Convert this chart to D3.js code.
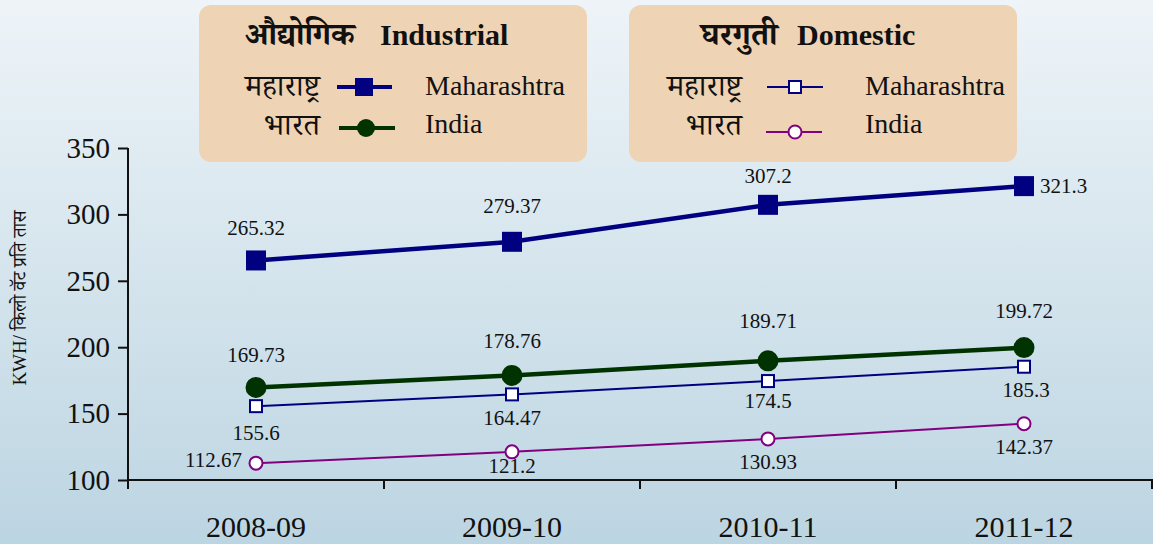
<!DOCTYPE html>
<html lang="en">
<head>
<meta charset="UTF-8">
<title>KWH per hour - Maharashtra and India</title>
<style>
    body { margin: 0; padding: 0; overflow: hidden; }
    svg { display: block; }
    text { font-family: 'Liberation Serif', 'Times New Roman', 'Noto Serif Devanagari', 'Lohit Devanagari', serif; fill: #111; }
</style>
<script src="https://d3js.org/d3.v7.min.js"></script>
</head>
<body>
<div id="chart"></div>
<script>
    // data
    const years = ["2008-09", "2009-10", "2010-11", "2011-12"];
    const indMaharashtra = [265.32, 279.37, 307.2, 321.3];
    const indIndia = [169.73, 178.76, 189.71, 199.72];
    const domMaharashtra = [155.6, 164.47, 174.5, 185.3];
    const domIndia = [112.67, 121.2, 130.93, 142.37];
    const yTicks = [100, 150, 200, 250, 300, 350];

    const width = 1153, height = 544;
    const svg = d3.select("#chart").append("svg")
        .attr("width", width)
        .attr("height", height);

    // background gradient
    const grad = svg.append("defs").append("linearGradient")
        .attr("id", "bg").attr("x1", 0).attr("y1", 0).attr("x2", 0).attr("y2", 1);
    grad.append("stop").attr("offset", "0%").attr("stop-color", "#eef4f8");
    grad.append("stop").attr("offset", "100%").attr("stop-color", "#bcd5e2");
    svg.append("rect").attr("width", width).attr("height", height).attr("fill", "url(#bg)");

    const x = d3.scaleBand().domain(years).range([128, 1152]);
    const y = d3.scaleLinear().domain([100, 350]).range([480, 148]);
    const cx = d => x(d) + x.bandwidth() / 2;

    // y axis
    const yAxis = svg.append("g")
        .attr("transform", "translate(128,0)")
        .call(d3.axisLeft(y).tickValues(yTicks).tickSize(10).tickPadding(8));
    yAxis.select(".domain").attr("stroke", "#111").attr("stroke-width", 2).attr("d", "M0,148V480");
    yAxis.selectAll(".tick line").attr("stroke", "#111").attr("stroke-width", 2);
    yAxis.selectAll(".tick text").attr("font-size", 29).attr("font-family", "Liberation Serif").attr("fill", "#111");

    // x axis (ticks between categories)
    svg.append("line").attr("x1", 128).attr("x2", width).attr("y1", 480).attr("y2", 480)
        .attr("stroke", "#111").attr("stroke-width", 2);
    const edges = years.map(d => x(d)).concat([x(years[years.length - 1]) + x.bandwidth()]);
    svg.selectAll(".xtick").data(edges).join("line")
        .attr("x1", d => d).attr("x2", d => d).attr("y1", 480).attr("y2", 489)
        .attr("stroke", "#111").attr("stroke-width", 2);
    svg.selectAll(".xlab").data(years).join("text")
        .attr("x", d => cx(d)).attr("y", 537)
        .attr("text-anchor", "middle").attr("font-size", 30)
        .text(d => d);

    // y axis title
    svg.append("text")
        .attr("transform", "translate(26,298) rotate(-90)")
        .attr("text-anchor", "middle").attr("font-size", 19)
        .text("KWH/ किलो वॅट प्रति तास");

    const line = d3.line().x((d, i) => cx(years[i])).y(d => y(d));

    // label offsets [dx, dy, anchor]
    const offIndM = [[0, -25, "middle"], [0, -29, "middle"], [0, -22, "middle"], [16, 7, "start"]];
    const offIndI = [[0, -25, "middle"], [0, -27, "middle"], [0, -33, "middle"], [0, -30, "middle"]];
    const offDomM = [[0, 34, "middle"], [0, 31, "middle"], [0, 27, "middle"], [2, 30, "middle"]];
    const offDomI = [[-14, 4, "end"], [0, 21, "middle"], [0, 30, "middle"], [0, 30, "middle"]];

    const series = [
        { values: domIndia, color: "#800080", width: 2, marker: "circle", size: 6.5, fill: "#fff", off: offDomI },
        { values: domMaharashtra, color: "#000080", width: 2, marker: "square", size: 12, fill: "#fff", off: offDomM },
        { values: indIndia, color: "#003300", width: 4.5, marker: "circle", size: 9.5, fill: "#003300", off: offIndI },
        { values: indMaharashtra, color: "#000080", width: 4.5, marker: "square", size: 18, fill: "#000080", off: offIndM }
    ];

    series.forEach(s => {
        svg.append("path").datum(s.values)
            .attr("d", line).attr("fill", "none")
            .attr("stroke", s.color).attr("stroke-width", s.width);
        const g = svg.append("g");
        s.values.forEach((v, i) => {
            const px = cx(years[i]), py = y(v);
            if (s.marker === "circle") {
                g.append("circle").attr("cx", px).attr("cy", py).attr("r", s.size)
                    .attr("fill", s.fill).attr("stroke", s.color).attr("stroke-width", 2);
            } else {
                g.append("rect").attr("x", px - s.size / 2).attr("y", py - s.size / 2)
                    .attr("width", s.size).attr("height", s.size)
                    .attr("fill", s.fill).attr("stroke", s.color).attr("stroke-width", 2);
            }
            const o = s.off[i];
            g.append("text").attr("x", px + o[0]).attr("y", py + o[1])
                .attr("text-anchor", o[2]).attr("font-size", 21)
                .text(v);
        });
    });

    // legend boxes
    function legend(x0) {
        const g = svg.append("g").attr("transform", `translate(${x0},0)`);
        g.append("rect").attr("x", 0).attr("y", 5).attr("width", 388).attr("height", 157)
            .attr("rx", 12).attr("fill", "#efd3b5");
        return g;
    }

    const lg1 = legend(199);
    lg1.append("text").attr("x", 46).attr("y", 45).attr("font-size", 32).attr("font-weight", "bold").text("औद्योगिक");
    lg1.append("text").attr("x", 181).attr("y", 45).attr("font-size", 30).attr("font-weight", "bold").text("Industrial");
    lg1.append("text").attr("x", 121).attr("y", 96).attr("text-anchor", "end").attr("font-size", 31).text("महाराष्ट्र");
    lg1.append("text").attr("x", 121).attr("y", 135).attr("text-anchor", "end").attr("font-size", 31).text("भारत");
    lg1.append("line").attr("x1", 138).attr("x2", 193).attr("y1", 87).attr("y2", 87).attr("stroke", "#000080").attr("stroke-width", 4);
    lg1.append("rect").attr("x", 156).attr("y", 78).attr("width", 18).attr("height", 18).attr("fill", "#000080");
    lg1.append("line").attr("x1", 140).attr("x2", 196).attr("y1", 128).attr("y2", 128).attr("stroke", "#003300").attr("stroke-width", 4);
    lg1.append("circle").attr("cx", 167).attr("cy", 128).attr("r", 9).attr("fill", "#003300");
    lg1.append("text").attr("x", 226).attr("y", 95).attr("font-size", 28).text("Maharashtra");
    lg1.append("text").attr("x", 226).attr("y", 133).attr("font-size", 28).text("India");

    const lg2 = legend(629);
    lg2.append("text").attr("x", 72).attr("y", 45).attr("font-size", 32).attr("font-weight", "bold").text("घरगुती");
    lg2.append("text").attr("x", 168).attr("y", 45).attr("font-size", 30).attr("font-weight", "bold").text("Domestic");
    lg2.append("text").attr("x", 113).attr("y", 96).attr("text-anchor", "end").attr("font-size", 31).text("महाराष्ट्र");
    lg2.append("text").attr("x", 113).attr("y", 135).attr("text-anchor", "end").attr("font-size", 31).text("भारत");
    lg2.append("line").attr("x1", 138).attr("x2", 194).attr("y1", 87).attr("y2", 87).attr("stroke", "#000080").attr("stroke-width", 2);
    lg2.append("rect").attr("x", 160).attr("y", 81).attr("width", 12).attr("height", 12).attr("fill", "#fff").attr("stroke", "#000080").attr("stroke-width", 2);
    lg2.append("line").attr("x1", 137).attr("x2", 193).attr("y1", 132).attr("y2", 132).attr("stroke", "#800080").attr("stroke-width", 2);
    lg2.append("circle").attr("cx", 166).attr("cy", 132).attr("r", 6.5).attr("fill", "#fff").attr("stroke", "#800080").attr("stroke-width", 2);
    lg2.append("text").attr("x", 236).attr("y", 95).attr("font-size", 28).text("Maharashtra");
    lg2.append("text").attr("x", 236).attr("y", 133).attr("font-size", 28).text("India");
</script>
</body>
</html>
